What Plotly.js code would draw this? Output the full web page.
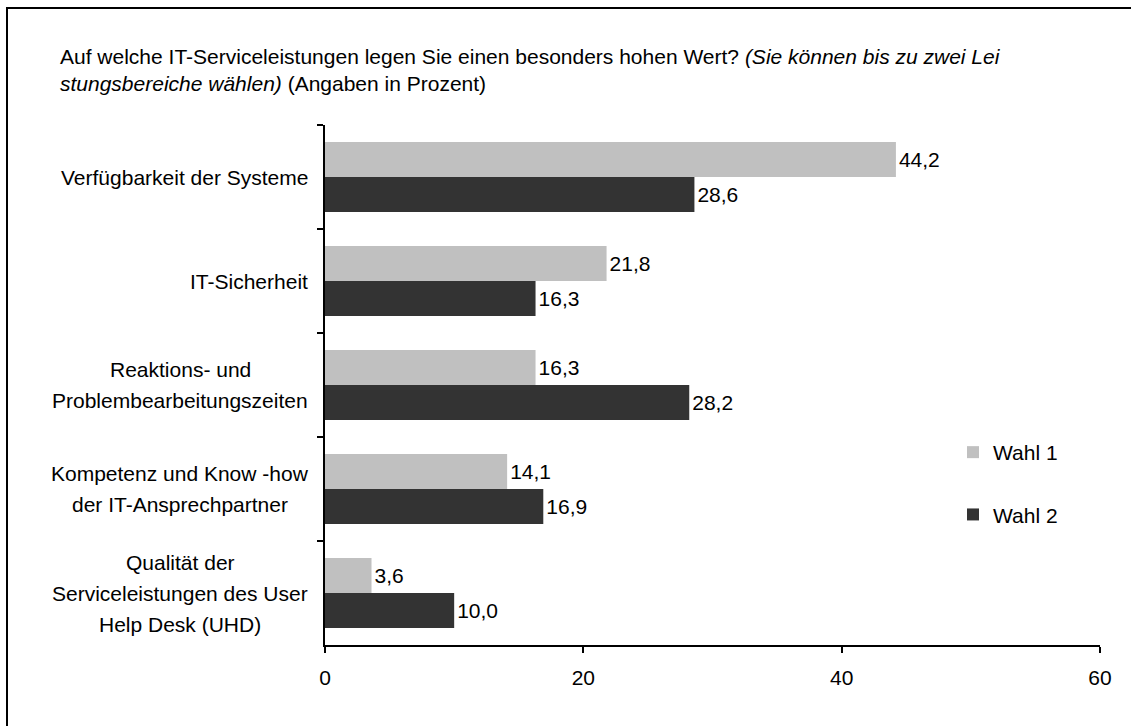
<!DOCTYPE html>
<html>
<head>
<meta charset="utf-8">
<script src="https://cdn.plot.ly/plotly-3.0.1.min.js"></script>
<style>
  html, body { margin: 0; padding: 0; background: #ffffff; }
  #chart { width: 1131px; height: 726px; }
</style>
</head>
<body>
<div id="chart"></div>
<script>
// Survey categories (top to bottom) and their shares in percent
const categories = [
  'Verfügbarkeit der Systeme',
  'IT-Sicherheit',
  'Reaktions- und<br>Problembearbeitungszeiten',
  'Kompetenz und Know -how<br>der IT-Ansprechpartner',
  'Qualität der<br>Serviceleistungen des User<br>Help Desk (UHD)'
];
const seriesNames = ['Wahl 1', 'Wahl 2'];
const wahl1 = [44.2, 21.8, 16.3, 14.1, 3.6];
const wahl2 = [28.6, 16.3, 28.2, 16.9, 10.0];
const xTicks = [0, 20, 40, 60];

const FONT = 'Liberation Sans, Arial, sans-serif';
const FS = 21;
const LABEL_LINE = 31; // line pitch of the category labels

const traces = [
  {
    type: 'bar', orientation: 'h', name: seriesNames[0], legendgroup: 'a',
    y: categories, x: wahl1,
    marker: { color: '#c0c0c0', line: { width: 0 } },
    texttemplate: '%{x:.1f}', textposition: 'outside', cliponaxis: false,
    textfont: { family: FONT, size: FS, color: '#000' },
    hoverinfo: 'skip'
  },
  {
    type: 'bar', orientation: 'h', name: seriesNames[1], legendgroup: 'b',
    y: categories, x: wahl2,
    marker: { color: '#333333', line: { width: 0 } },
    texttemplate: '%{x:.1f}', textposition: 'outside', cliponaxis: false,
    textfont: { family: FONT, size: FS, color: '#000' },
    hoverinfo: 'skip'
  }
];

// Category labels: one annotation per line, lines centred on a common
// axis so each block sits right-aligned next to the y axis
const ctx = document.createElement('canvas').getContext('2d');
ctx.font = FS + 'px "Liberation Sans", Arial, sans-serif';
const labelNotes = [];
categories.forEach(c => {
  const lines = c.split('<br>');
  const n = lines.length;
  const w = Math.max(...lines.map(t => ctx.measureText(t).width));
  lines.forEach((ln, i) => {
    labelNotes.push({
      xref: 'paper', yref: 'y', x: 0, y: c,
      xanchor: 'center', yanchor: 'middle', align: 'center',
      xshift: -17 - w / 2,
      yshift: ((n - 1) / 2 - i) * LABEL_LINE,
      text: ln, showarrow: false,
      font: { family: FONT, size: FS, color: '#000' }
    });
  });
});

const layout = {
  width: 1131, height: 726,
  margin: { l: 325, r: 31, t: 125, b: 81 },
  paper_bgcolor: '#ffffff', plot_bgcolor: '#ffffff',
  font: { family: FONT, size: FS, color: '#000' },
  separators: ',.',
  barmode: 'group', bargap: 0.327, bargroupgap: 0,
  title: {
    text: 'Auf welche IT-Serviceleistungen legen Sie einen besonders hohen Wert? <i>(Sie können bis zu zwei Lei</i><br><i>stungsbereiche wählen)</i> (Angaben in Prozent)',
    xref: 'container', yref: 'container', x: 60 / 1131, xanchor: 'left',
    y: 1 - 64 / 726, yanchor: 'top', automargin: false,
    font: { family: FONT, size: FS, color: '#000' }
  },
  xaxis: {
    range: [0, 60], tickvals: xTicks, ticktext: xTicks.map(String),
    showgrid: false, zeroline: false,
    showline: true, linecolor: '#000', linewidth: 2,
    ticks: 'outside', ticklen: 6, tickwidth: 2, tickcolor: '#000',
    tickfont: { family: FONT, size: FS, color: '#000' },
    ticklabelstandoff: 7, fixedrange: true
  },
  yaxis: {
    type: 'category', autorange: 'reversed',
    showgrid: false, zeroline: false,
    showline: true, linecolor: '#000', linewidth: 2,
    ticks: 'outside', tickson: 'boundaries', ticklen: 6, tickwidth: 2, tickcolor: '#000',
    showticklabels: false, fixedrange: true
  },
  legend: {
    x: (953 - 325) / 775, xanchor: 'left', y: (645 - 432) / 520, yanchor: 'top',
    bgcolor: 'rgba(0,0,0,0)', borderwidth: 0,
    tracegroupgap: 32, traceorder: 'grouped',
    font: { family: FONT, size: FS, color: '#000' }
  },
  annotations: labelNotes,
  shapes: [
    // outer frame of the chart area
    { type: 'rect', xref: 'paper', yref: 'paper',
      x0: -318 / 775, x1: 1.2, y0: -0.3, y1: 1 + 117 / 520,
      line: { color: '#000', width: 2 }, fillcolor: 'rgba(0,0,0,0)', layer: 'below' }
  ],
  showlegend: true
};

Plotly.newPlot('chart', traces, layout, { displayModeBar: false, staticPlot: true });
</script>
</body>
</html>
